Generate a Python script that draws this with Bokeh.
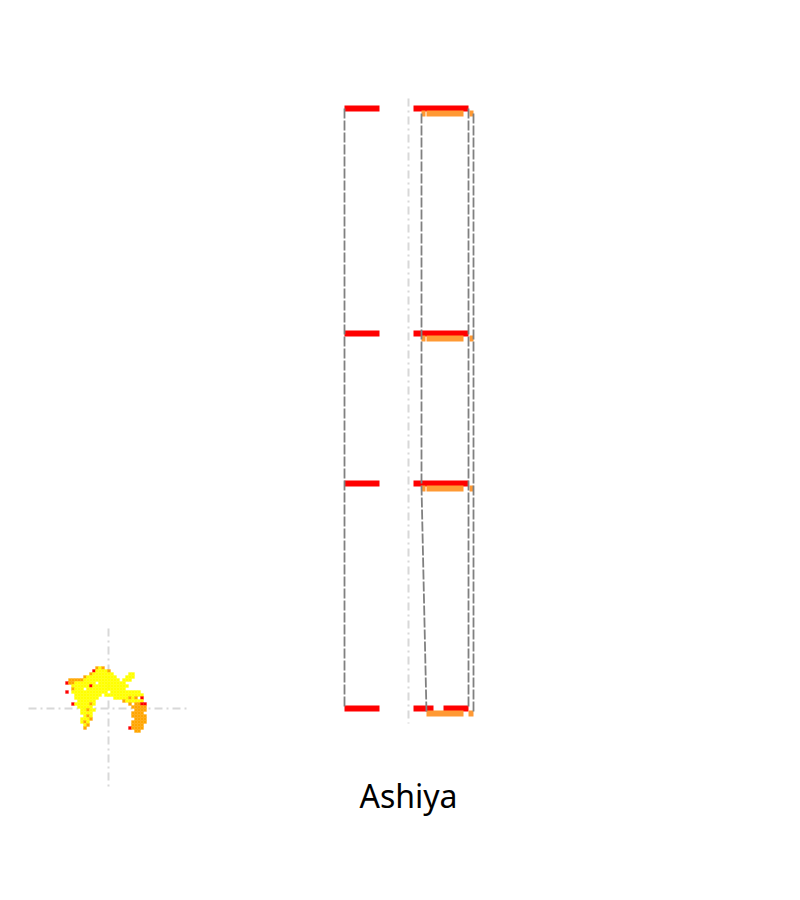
from bokeh.plotting import figure
from bokeh.models import Range1d, Label
from bokeh.embed import file_html
from bokeh.resources import INLINE

title_text = "Ashiya"

# red bars (track levels)
red_x0 = [344, 344, 344, 344, 413, 413, 413, 413, 443]
red_x1 = [379, 379, 379, 379, 468, 468, 468, 433, 468]
red_y = [108, 333, 483, 708, 108, 333, 483, 708, 708]

# orange bars
orange_x0 = [421, 426, 469, 421, 426, 469, 421, 426, 469, 426, 468]
orange_x1 = [425, 463, 473, 425, 463, 473, 425, 463, 473, 463, 473]
orange_y = [113, 113, 113, 338, 338, 338, 488, 488, 488, 713, 713]

# grey connector paths
grey_xs = [[344, 344], [421, 421, 426], [468, 468], [473, 473]]
grey_ys = [[108, 708], [113, 486, 713], [108, 708], [113, 713]]

# light guide lines
guide_xs = [[408, 408], [108, 108], [28, 188]]
guide_ys = [[98, 723], [628, 788], [708, 708]]

# small map blob (Y yellow, O orange, R red)
blob_x0 = 62
blob_y0 = 666
blob_cell = 3
blob_rows = [
    "...........OYO...............",
    "..........RYYYYO.............",
    ".........OYYYYYYY.....YY.....",
    ".......OYYYYYYYYYY...YYY.....",
    "..OOOOOYYYYYYYYYYYY.YYY......",
    ".ROOYYYYYYY.YYYYYYYYY........",
    "...YYYYYYRYYYYYYYYYYYY.......",
    "...OYYY.YYYYYYYYYYYYY........",
    ".R.YYYYYYYYYYYY.YYYYYYYYYY...",
    "....YYYYYYYYY.YYYYYYYYYYYYY..",
    "....YYYYYYYY.....YYYYYOYO.R..",
    ".....YYYYYY.........OYYYYYY..",
    "...RYYYYYOY...........O.OORR.",
    ".....YYYYY.............OOOOO.",
    "......YYOYY.............OOOO.",
    "......YYYY.............OOOO..",
    ".......YOY.............OOOOO.",
    "......YYYO..............OOOO.",
    "......YOY..............OOOOO.",
    ".......YO..............OOOO..",
    ".......O..............ROOOO..",
    "........................OO...",
]
blob_colors = {"Y": "#FFFF00", "O": "#FFA500", "R": "#FF0000"}

bx, by, bc = [], [], []
for r, row in enumerate(blob_rows):
    for c, ch in enumerate(row):
        if ch in blob_colors:
            bx.append(blob_x0 + blob_cell * c + blob_cell / 2)
            by.append(blob_y0 + blob_cell * r + blob_cell / 2)
            bc.append(blob_colors[ch])

p = figure(width=784, height=884, x_range=Range1d(0, 784), y_range=Range1d(884, 0),
           output_backend="svg", toolbar_location=None, min_border=0,
           x_axis_location=None, y_axis_location=None)
p.grid.visible = False
p.outline_line_color = None
p.background_fill_color = "white"
p.border_fill_color = "white"

p.multi_line(xs=guide_xs, ys=guide_ys, line_color="#D8D8D8", line_width=2,
             line_dash="8 4 2 4")

p.rect(x=bx, y=by, width=blob_cell, height=blob_cell, fill_color=bc, line_color=bc,
       line_width=0.3)

p.segment(x0=red_x0, y0=red_y, x1=red_x1, y1=red_y, line_color="#FF0000", line_width=6)
p.segment(x0=orange_x0, y0=orange_y, x1=orange_x1, y1=orange_y, line_color="#FF9933",
          line_width=6)

p.multi_line(xs=grey_xs, ys=grey_ys, line_color="#808080", line_width=1.8,
             line_dash="10 2")

p.add_layout(Label(x=408, y=795, text=title_text, text_align="center",
                   text_baseline="alphabetic", text_font_size="32px",
                   text_font="Noto Sans", text_color="black"))

open("out.html", "w").write(file_html(p, INLINE))
